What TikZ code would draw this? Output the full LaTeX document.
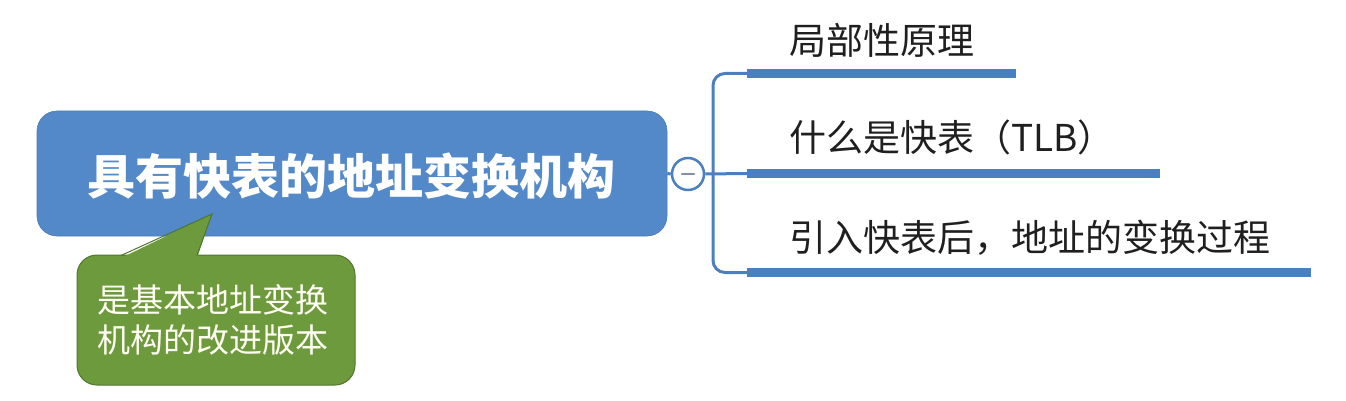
\documentclass[tikz,border=0pt]{standalone}
\usepackage{fontspec}
\newfontfamily\cjk{Noto Sans CJK SC}
\definecolor{mainblue}{RGB}{84,137,201}
\definecolor{barblue}{RGB}{76,127,192}
\definecolor{notegreen}{RGB}{110,154,62}
\definecolor{notedark}{RGB}{78,118,44}
\definecolor{minusgray}{RGB}{128,144,170}
\tikzset{
  mainbox/.style={draw=mainblue!90!black, line width=0.6pt, fill=mainblue, rounded corners=20pt,
    minimum width=630pt, minimum height=125pt, inner sep=0pt},
  maintxt/.style={inner sep=0pt, text=white, font=\cjk\bfseries\fontsize{48}{52}\selectfont},
  collapsebtn/.style={circle, draw=barblue, line width=2.5pt, fill=white, minimum size=32pt, inner sep=0pt},
  conn/.style={draw=barblue, line width=3pt},
  bar/.style={draw=barblue, line width=9pt},
  topic/.style={anchor=west, inner sep=0pt, text=black!88, font=\cjk\fontsize{37}{42}\selectfont},
  notebox/.style={draw=notedark, line width=1pt, fill=notegreen, rounded corners=20pt,
    minimum width=278pt, minimum height=130pt, inner sep=0pt},
  notetext/.style={anchor=north west, inner sep=0pt, align=left, text=white!95!yellow,
    font=\cjk\fontsize{33}{40}\selectfont},
}
\begin{document}
\begin{tikzpicture}[x=1pt,y=-1pt]
\useasboundingbox (0,0) rectangle (1346,401);
% main topic
\node[mainbox] (main) at (352,173.5) {};
\node[maintxt] (maintext) at (351,176) {具有快表的地址变换机构};
% callout note
\node[notebox] (note) at (216,320) {};
\fill[notegreen] (121,258) -- (212,214) -- (197,258) -- cycle;
\draw[notedark, line width=1pt, line join=miter] (121,255.5) -- (212,214) -- (197,255.5);
\node[notetext] (notetxt) at (97,284) {是基本地址变换\\机构的改进版本};
% collapse button
\node[collapsebtn] (collapse) at (688,174) {};
\draw[minusgray, line width=2.5pt, line cap=round] ([xshift=-6pt]collapse.center) -- ([xshift=6pt]collapse.center);
% connectors
\coordinate (b1s) at (747,73.5);
\coordinate (b1e) at (1016,73.5);
\coordinate (b2s) at (747,173.5);
\coordinate (b2e) at (1160,173.5);
\coordinate (b3s) at (747,272.5);
\coordinate (b3e) at (1311,272.5);
\draw[conn] (main.east) -- (collapse.west);
\draw[conn] (collapse.east) -- (b2s);
\draw[conn, rounded corners=12pt] (b1s) -- (713,73.5) -- (713,272.5) -- (b3s);
\draw[bar] (b1s) -- (b1e);
\draw[bar] (b2s) -- (b2e);
\draw[bar] (b3s) -- (b3e);
% topics
\node[topic] (t1) at (789,40) {局部性原理};
\node[topic] (t2) at (789,137) {什么是快表（TLB）};
\node[topic] (t3) at (789,238) {引入快表后，地址的变换过程};
\end{tikzpicture}
\end{document}
